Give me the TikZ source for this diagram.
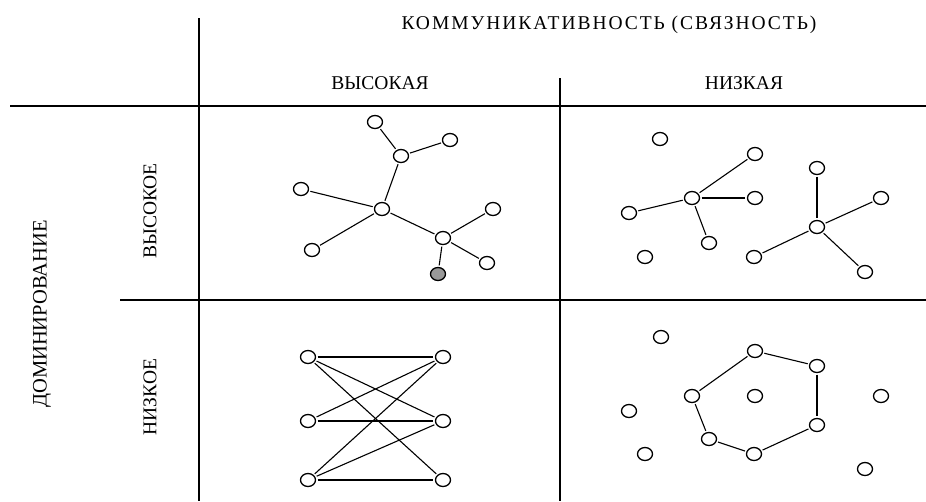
\documentclass[tikz,border=0pt]{standalone}
\usepackage{fontspec}
\setmainfont{Liberation Serif}
\usetikzlibrary{shapes.geometric}
\tikzset{
  vert/.style={ellipse,draw,line width=1.3pt,minimum width=15pt,minimum height=13pt,inner sep=0pt,fill=white},
  hub/.style={vert,fill=black!40},
  link/.style={line width=1.1pt,shorten >=1.5pt,shorten <=1.5pt},
  grid/.style={line width=1.6pt},
  lab/.style={font=\fontsize{19.5}{22}\selectfont,inner sep=0pt},
}
\begin{document}
\begin{tikzpicture}[x=1pt,y=-1pt]
\useasboundingbox (0,0) rectangle (926,501);
% grid
\coordinate (g1a) at (199,18); \coordinate (g1b) at (199,501);
\coordinate (g2a) at (10,106); \coordinate (g2b) at (926,106);
\coordinate (g3a) at (560,78); \coordinate (g3b) at (560,501);
\coordinate (g4a) at (120,300); \coordinate (g4b) at (926,300);
\draw[grid] (g1a) -- (g1b);
\draw[grid] (g2a) -- (g2b);
\draw[grid] (g3a) -- (g3b);
\draw[grid] (g4a) -- (g4b);
% labels
\node[lab,font=\fontsize{19.5}{22}\selectfont\addfontfeature{LetterSpace=10}] (head) at (609,25) {КОММУНИКАТИВНОСТЬ (СВЯЗНОСТЬ)};
\node[lab] (hi) at (380,83) {ВЫСОКАЯ};
\node[lab] (lo) at (744,83) {НИЗКАЯ};
\node[lab,font=\fontsize{20.5}{23}\selectfont,rotate=90] (dom) at (42,314) {ДОМИНИРОВАНИЕ};
\node[lab,rotate=90] (dhi) at (150,211) {ВЫСОКОЕ};
\node[lab,rotate=90] (dlo) at (150,397) {НИЗКОЕ};
% top-left
\node[vert] (A) at (375,122) {};
\node[vert] (B) at (450,140) {};
\node[vert] (C) at (401,156) {};
\node[vert] (D) at (301,189) {};
\node[vert] (E) at (382,209) {};
\node[vert] (F) at (493,209) {};
\node[vert] (G) at (443,238) {};
\node[vert] (H) at (312,250) {};
\node[vert] (I) at (487,263) {};
\node[hub] (J) at (438,274) {};
\draw[link] (A) -- (C);
\draw[link] (C) -- (B);
\draw[link] (C) -- (E);
\draw[link] (D) -- (E);
\draw[link] (E) -- (H);
\draw[link] (E) -- (G);
\draw[link] (G) -- (F);
\draw[link] (G) -- (I);
\draw[link] (G) -- (J);
% top-right
\node[vert] (K) at (660,139) {};
\node[vert] (L) at (755,154) {};
\node[vert] (M) at (692,198) {};
\node[vert] (N) at (755,198) {};
\node[vert] (O) at (629,213) {};
\node[vert] (P) at (709,243) {};
\node[vert] (Q) at (645,257) {};
\node[vert] (R) at (817,168) {};
\node[vert] (S) at (881,198) {};
\node[vert] (T) at (817,227) {};
\node[vert] (U) at (754,257) {};
\node[vert] (V) at (865,272) {};
\draw[link] (M) -- (L);
\draw[link] (M) -- (N);
\draw[link] (M) -- (O);
\draw[link] (M) -- (P);
\draw[link] (R) -- (T);
\draw[link] (T) -- (S);
\draw[link] (T) -- (U);
\draw[link] (T) -- (V);
% bottom-left
\node[vert] (L1) at (308,357) {};
\node[vert] (L2) at (308,421) {};
\node[vert] (L3) at (308,480) {};
\node[vert] (R1) at (443,357) {};
\node[vert] (R2) at (443,421) {};
\node[vert] (R3) at (443,480) {};
\draw[link] (L1) -- (R1);
\draw[link] (L1) -- (R2);
\draw[link] (L1) -- (R3);
\draw[link] (L2) -- (R1);
\draw[link] (L2) -- (R2);
\draw[link] (L3) -- (R1);
\draw[link] (L3) -- (R2);
\draw[link] (L3) -- (R3);
% bottom-right
\node[vert] (a) at (661,337) {};
\node[vert] (b) at (755,351) {};
\node[vert] (c) at (817,366) {};
\node[vert] (d) at (692,396) {};
\node[vert] (e) at (755,396) {};
\node[vert] (f) at (881,396) {};
\node[vert] (g) at (629,411) {};
\node[vert] (h) at (817,425) {};
\node[vert] (i) at (709,439) {};
\node[vert] (j) at (645,454) {};
\node[vert] (k) at (754,454) {};
\node[vert] (l) at (865,469) {};
\draw[link] (d) -- (b);
\draw[link] (b) -- (c);
\draw[link] (c) -- (h);
\draw[link] (h) -- (k);
\draw[link] (k) -- (i);
\draw[link] (i) -- (d);
\end{tikzpicture}
\end{document}
